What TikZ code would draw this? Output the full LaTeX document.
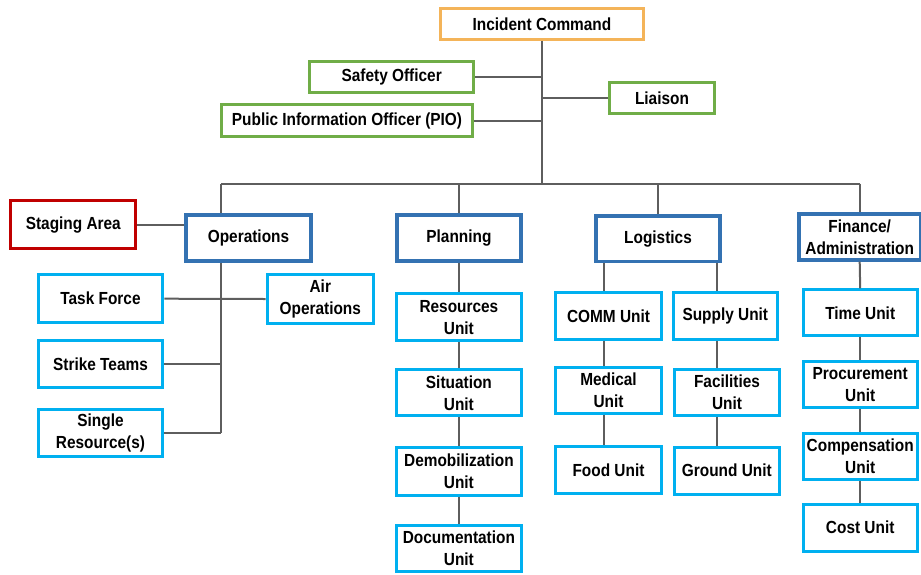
\documentclass[tikz,border=0pt]{standalone}
\usepackage{fontspec}
\setmainfont{Liberation Sans}[FakeStretch=0.88]
\definecolor{icorange}{HTML}{F4B459}
\definecolor{offgreen}{HTML}{70AD47}
\definecolor{stagered}{HTML}{C00000}
\definecolor{secblue}{HTML}{3472B2}
\definecolor{unitblue}{HTML}{00B0F0}
\definecolor{linegray}{HTML}{5E5E5E}
\tikzset{
  box/.style={draw, line width=3pt, fill=white, align=center, inner sep=0pt,
    font=\fontsize{17.5}{22}\selectfont\bfseries, text=black},
  icbox/.style={box, draw=icorange},
  offbox/.style={box, draw=offgreen},
  stagebox/.style={box, draw=stagered},
  secbox/.style={box, draw=secblue, line width=3.5pt},
  unitbox/.style={box, draw=unitblue},
  conn/.style={draw=linegray, line width=2pt},
}
\begin{document}
\begin{tikzpicture}[x=1pt,y=-1pt]
\useasboundingbox (0,0) rectangle (921,574);
% command staff
\node[icbox, minimum width=203.6pt, minimum height=31.3pt] (ic) at (542,23.8) {Incident Command};
\node[offbox, minimum width=163.7pt, minimum height=31.3pt] (safety) at (391.7,77.2) {Safety Officer};
\node[offbox, minimum width=251pt, minimum height=31.7pt] (pio) at (347,120.7) {Public Information Officer (PIO)};
\node[offbox, minimum width=105.6pt, minimum height=31.3pt] (liaison) at (662,97.8) {Liaison};
% sections
\node[stagebox, minimum width=125pt, minimum height=47.7pt] (stage) at (73.3,224.7) {Staging Area};
\node[secbox, minimum width=124.9pt, minimum height=45.9pt] (ops) at (248.5,238) {Operations};
\node[secbox, minimum width=124.2pt, minimum height=45.9pt] (plan) at (458.9,238) {Planning};
\node[secbox, minimum width=123.9pt, minimum height=45.8pt] (log) at (658,238.7) {Logistics};
\node[secbox, minimum width=121.2pt, minimum height=45.9pt] (fin) at (859.7,237) {Finance/\\Administration};
% operations units
\node[unitbox, minimum width=124.6pt, minimum height=47.7pt] (task) at (100.5,298.7) {Task Force};
\node[unitbox, minimum width=106.3pt, minimum height=48.4pt] (air) at (320.3,299) {Air\\Operations};
\node[unitbox, minimum width=124.6pt, minimum height=47.3pt] (strike) at (100.5,363.8) {Strike Teams};
\node[unitbox, minimum width=124.6pt, minimum height=47pt] (single) at (100.5,433) {Single\\Resource(s)};
% planning units
\node[unitbox, minimum width=124.7pt, minimum height=46.7pt] (res) at (458.9,317.2) {Resources\\Unit};
\node[unitbox, minimum width=124.7pt, minimum height=46pt] (sit) at (458.9,392.8) {Situation\\Unit};
\node[unitbox, minimum width=124.7pt, minimum height=47.7pt] (demob) at (458.9,471.3) {Demobilization\\Unit};
\node[unitbox, minimum width=124.7pt, minimum height=46.3pt] (doc) at (458.9,548.7) {Documentation\\Unit};
% logistics units
\node[unitbox, minimum width=105.4pt, minimum height=46.7pt] (comm) at (608.5,315.8) {COMM Unit};
\node[unitbox, minimum width=105.4pt, minimum height=46pt] (med) at (608.5,390.2) {Medical\\Unit};
\node[unitbox, minimum width=105.4pt, minimum height=47pt] (food) at (608.5,470) {Food Unit};
\node[unitbox, minimum width=104.3pt, minimum height=46.7pt] (supply) at (725.3,315.8) {Supply Unit};
\node[unitbox, minimum width=104.4pt, minimum height=46pt] (fac) at (727,392.2) {Facilities\\Unit};
\node[unitbox, minimum width=105.3pt, minimum height=47pt] (ground) at (726.8,470.7) {Ground Unit};
% finance units
\node[unitbox, minimum width=114pt, minimum height=46pt] (time) at (860.2,312.8) {Time Unit};
\node[unitbox, minimum width=114pt, minimum height=46.3pt] (proc) at (860.2,384.7) {Procurement\\Unit};
\node[unitbox, minimum width=114pt, minimum height=46pt] (comp) at (860.2,456.2) {Compensation\\Unit};
\node[unitbox, minimum width=114pt, minimum height=47pt] (cost) at (860.2,527.7) {Cost Unit};
% helper coordinates
\coordinate (busy) at (0,183.7);
\coordinate (opsx) at (221,0);
\coordinate (lx1) at (604,0);
\coordinate (lx2) at (717,0);
% connectors
\draw[conn] (ic.south) -- (ic.south |- busy);
\draw[conn] (safety.east) -- (safety.east -| ic.south);
\draw[conn] (pio.east) -- (pio.east -| ic.south);
\draw[conn] (liaison.west) -- (liaison.west -| ic.south);
\draw[conn] (opsx |- busy) -- (fin.north |- busy);
\draw[conn] (opsx |- busy) -- (opsx |- ops.north);
\draw[conn] (plan.north |- busy) -- (plan.north);
\draw[conn] (log.north |- busy) -- (log.north);
\draw[conn] (fin.north |- busy) -- (fin.north);
\draw[conn] (stage.east) -- (stage.east -| ops.west);
\draw[conn] (opsx |- ops.south) -- (opsx |- single.east);
\draw[conn] (task.east) -- (air.west);
\draw[conn] (strike.east) -- (strike.east -| opsx);
\draw[conn] (single.east) -- (single.east -| opsx);
\draw[conn] (plan.south) -- (res.north);
\draw[conn] (res.south) -- (sit.north);
\draw[conn] (sit.south) -- (demob.north);
\draw[conn] (demob.south) -- (doc.north);
\draw[conn] (log.south -| lx1) -- (comm.north -| lx1);
\draw[conn] (comm.south -| lx1) -- (med.north -| lx1);
\draw[conn] (med.south -| lx1) -- (food.north -| lx1);
\draw[conn] (log.south -| lx2) -- (supply.north -| lx2);
\draw[conn] (supply.south -| lx2) -- (fac.north -| lx2);
\draw[conn] (fac.south -| lx2) -- (ground.north -| lx2);
\draw[conn] (fin.south) -- (time.north);
\draw[conn] (time.south) -- (proc.north);
\draw[conn] (proc.south) -- (comp.north);
\draw[conn] (comp.south) -- (cost.north);
\end{tikzpicture}
\end{document}
